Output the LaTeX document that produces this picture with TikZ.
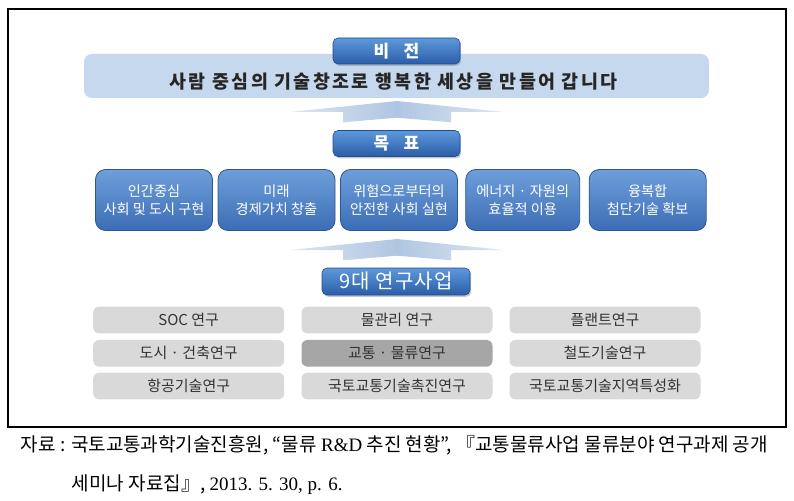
\documentclass[tikz,border=0pt]{standalone}
\usepackage{fontspec}
\setmainfont{Noto Sans CJK KR}
\newfontfamily\serifL{Liberation Serif}
\usetikzlibrary{shadows}
\definecolor{banner}{HTML}{C6D8EE}
\definecolor{arrowc}{HTML}{AFC6E2}
\definecolor{arrowl}{HTML}{DCE6F2}
\definecolor{ttop}{HTML}{5E98DB}
\definecolor{tbot}{HTML}{2A5EA8}
\definecolor{tedge}{HTML}{1F4D8E}
\definecolor{gtop}{HTML}{6E9FDA}
\definecolor{gbot}{HTML}{3C6DB5}
\definecolor{gedge}{HTML}{2C5792}
\definecolor{lgray}{HTML}{D9D9D9}
\definecolor{dgray}{HTML}{A6A6A6}
\definecolor{txtgray}{HTML}{333333}
\tikzset{
  titlebox/.style={rounded corners=5pt, top color=ttop, bottom color=tbot, draw=tedge, line width=0.6pt,
    text=white, font=\fontsize{17}{20}\selectfont\bfseries, minimum width=127pt, minimum height=26pt, inner sep=0pt,
    drop shadow={shadow xshift=1.2pt, shadow yshift=-1.8pt, opacity=0.45}},
  goalbox/.style={rounded corners=10pt, top color=gtop, bottom color=gbot, draw=gedge, line width=0.8pt,
    text=white, font=\fontsize{14.2}{17.6}\selectfont, align=center, minimum width=117pt, minimum height=61pt, inner sep=0pt},
  resbox/.style={rounded corners=6pt, fill=lgray, text=txtgray, font=\fontsize{15}{17}\selectfont,
    minimum width=191pt, minimum height=26.7pt, inner sep=0pt},
  upshape/.style={left color=arrowl, right color=arrowl, middle color=arrowc, draw=none},
  captext/.style={anchor=west, font=\fontsize{19}{22}\selectfont, inner sep=0pt}
}
\begin{document}
\begin{tikzpicture}[x=1pt,y=-1pt]
\useasboundingbox (0,0) rectangle (794,500);
% frame
\draw[line width=1.1pt] (8,9) rectangle (786,427);
% vision banner
\node[rounded corners=8pt, fill=banner, minimum width=625pt, minimum height=44pt, inner sep=0pt] (banner) at (396.5,76) {};
\node[font=\fontsize{18.4}{20}\selectfont\bfseries\addfontfeature{LetterSpace=13}, text=black!85] (vtext) at (393.5,81.5) {사람 중심의 기술창조로 행복한 세상을 만들어 갑니다};
\node[titlebox] (vision) at (396.5,51) {비\hspace{0.85em}전};
% arrow 1
\path[upshape] (290,112) -- (397,101) -- (504,112) -- (451,112) -- (451,122.3) -- (397,117.7) -- (343,122.3) -- (343,112) -- cycle;
\node[titlebox] (goal) at (396.5,143.5) {목\hspace{0.85em}표};
% goals
\node[goalbox] (g1) at (154,200) {인간중심\\사회 및 도시 구현};
\node[goalbox] (g2) at (276.5,200) {미래\\경제가치 창출};
\node[goalbox] (g3) at (399,200) {위험으로부터의\\안전한 사회 실현};
\node[goalbox, minimum width=114pt] (g4) at (522.7,200) {에너지 · 자원의\\효율적 이용};
\node[goalbox] (g5) at (647.7,200) {융복합\\첨단기술 확보};
% arrow 2
\path[upshape] (290,250) -- (397,239) -- (504,250) -- (451,250) -- (451,260.3) -- (397,255.7) -- (343,260.3) -- (343,250) -- cycle;
\node[titlebox, minimum width=148pt, minimum height=27pt, font=\fontsize{20}{22}\selectfont\addfontfeature{LetterSpace=6}] (res) at (396,281.5) {9대 연구사업};
% research boxes
\node[resbox] (r11) at (188.7,320) {SOC 연구};
\node[resbox] (r12) at (397,320) {물관리 연구};
\node[resbox] (r13) at (605,320) {플랜트연구};
\node[resbox] (r21) at (188.7,353.3) {도시 · 건축연구};
\node[resbox, fill=dgray] (r22) at (397,353.3) {교통 · 물류연구};
\node[resbox] (r23) at (605,353.3) {철도기술연구};
\node[resbox] (r31) at (188.7,386) {항공기술연구};
\node[resbox] (r32) at (397,386) {국토교통기술촉진연구};
\node[resbox] (r33) at (605,386) {국토교통기술지역특성화};
% caption
\node[captext] (cap1) at (20.7,445) {자료 : 국토교통과학기술진흥원, “물류 {\serifL R\&D} 추진 현황”, 『교통물류사업 물류분야 연구과제 공개};
\node[captext] (cap2) at (71.7,485) {세미나 자료집』, {\serifL 2013. 5. 30, p. 6.}};
\end{tikzpicture}
\end{document}
